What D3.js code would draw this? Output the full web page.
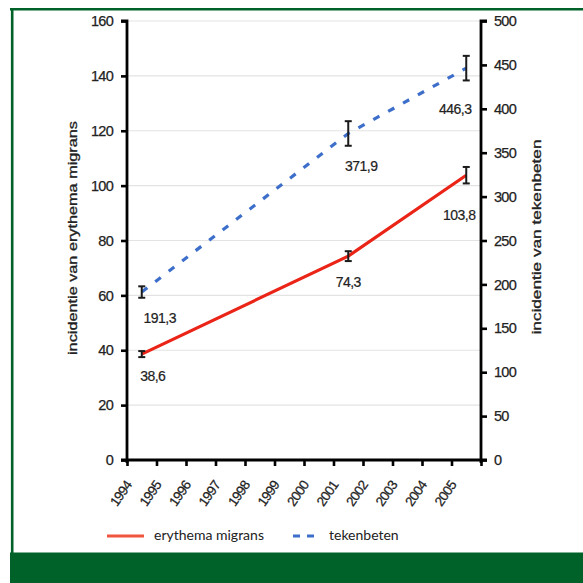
<!DOCTYPE html>
<html>
<head>
<meta charset="utf-8">
<script src="https://cdn.jsdelivr.net/npm/d3@7"></script>
<style>
  body { margin: 0; background: white; }
  svg { display: block; }
</style>
</head>
<body>
<div id="container"></div>
<script>
let w = 583;
let h = 583;

// DATA
let years = [1994, 1995, 1996, 1997, 1998, 1999, 2000, 2001, 2002, 2003, 2004, 2005];
let pointYears = [1994, 2001, 2005];
let emValues = [38.6, 74.3, 103.8];
let emErrors = [1.1, 1.8, 3.0];
let tbValues = [191.3, 371.9, 446.3];
let tbErrors = [6.5, 14, 14];
let emLabels = ["38,6", "74,3", "103,8"];
let tbLabels = ["191,3", "371,9", "446,3"];
let leftTicks = [0, 20, 40, 60, 80, 100, 120, 140, 160];
let rightTicks = [0, 50, 100, 150, 200, 250, 300, 350, 400, 450, 500];

// label offsets from the point (dx, dy)
let emLabelOffset = [[11, 27], [0, 31], [-7, 45]];
let tbLabelOffset = [[18, 31], [13, 38], [-11, 46]];

let green = "#006229";
let red = "#eb2418";
let blue = "#3d6fca";

let viz = d3.select("#container").append("svg")
    .attr("width", w)
    .attr("height", h);

// frame
viz.append("rect").attr("x", 0).attr("y", 0).attr("width", w).attr("height", h).attr("fill", "white");
viz.append("line").attr("x1", 10).attr("x2", w).attr("y1", 9.3).attr("y2", 9.3)
  .attr("stroke", green).attr("stroke-width", 2.6);
viz.append("line").attr("x1", 12.2).attr("x2", 12.2).attr("y1", 8).attr("y2", 553)
  .attr("stroke", green).attr("stroke-width", 2.6);
viz.append("rect").attr("x", 10).attr("y", 552.5).attr("width", w - 10).attr("height", h - 552.5)
  .attr("fill", green);

// SCALES
let xScale = d3.scaleLinear().domain([1994, 2006]).range([127, 481]);
let yLeft = d3.scaleLinear().domain([0, 160]).range([460, 21]);
let yRight = d3.scaleLinear().domain([0, 500]).range([460, 21]);
let xMid = function(y){ return xScale(y + 0.5); };

// gridlines
viz.selectAll(".grid").data(leftTicks.slice(1)).enter()
  .append("line")
    .attr("class", "grid")
    .attr("x1", xScale(1994)).attr("x2", xScale(2006))
    .attr("y1", function(d){ return yLeft(d); })
    .attr("y2", function(d){ return yLeft(d); })
    .attr("stroke", "#e3e3e3")
    .attr("stroke-width", 1.2);

let tickFont = "'Liberation Sans', Arial, sans-serif";

// left axis
let leftAxis = viz.append("g")
  .attr("transform", "translate(" + xScale(1994) + ",0)")
  .call(d3.axisLeft(yLeft).tickValues(leftTicks).tickSize(6).tickPadding(8));
// right axis
let rightAxis = viz.append("g")
  .attr("transform", "translate(" + xScale(2006) + ",0)")
  .call(d3.axisRight(yRight).tickValues(rightTicks).tickSize(6).tickPadding(7));
// x axis
let xAxis = viz.append("g")
  .attr("transform", "translate(0," + yLeft(0) + ")")
  .call(d3.axisBottom(xScale).tickValues(d3.range(1994, 2007)).tickSize(6)
    .tickFormat(function(d){ return years.indexOf(d) >= 0 ? d : ""; }));

[leftAxis, rightAxis, xAxis].forEach(function(a){
  a.select(".domain").attr("stroke", "black").attr("stroke-width", 2.8);
  a.selectAll(".tick line").attr("stroke", "black").attr("stroke-width", 2.6);
  a.selectAll("text").attr("fill", "#222").style("font-family", tickFont).style("font-size", "14.5px")
    .style("letter-spacing", "-0.7px").attr("stroke", "#222").attr("stroke-width", 0.25);
});
leftAxis.select(".domain").attr("d", "M-6,21H0V463");
rightAxis.select(".domain").attr("d", "M6,21H0V463");
xAxis.select(".domain").attr("d", "M" + (xScale(1994) - 6) + ",0H" + (xScale(2006) + 6));

xAxis.selectAll("text")
  .style("font-size", "13.5px")
  .style("letter-spacing", "-0.7px")
  .attr("text-anchor", "end")
  .attr("transform", "translate(5,25) rotate(-55)")
  .attr("dy", 0)
  .attr("y", 0);

// axis titles
let titleFont = "'Liberation Sans', Arial, sans-serif";
viz.append("text")
  .attr("transform", "translate(77,238) rotate(-90)")
  .attr("text-anchor", "middle")
  .attr("textLength", 234)
  .attr("lengthAdjust", "spacingAndGlyphs")
  .style("font-family", titleFont)
  .style("font-size", "12px")
  .attr("fill", "#222")
  .attr("stroke", "#222").attr("stroke-width", 0.3)
  .text("incidentie van erythema migrans");
viz.append("text")
  .attr("transform", "translate(541,237) rotate(-90)")
  .attr("text-anchor", "middle")
  .attr("textLength", 195)
  .attr("lengthAdjust", "spacingAndGlyphs")
  .style("font-family", titleFont)
  .style("font-size", "12px")
  .attr("fill", "#222")
  .attr("stroke", "#222").attr("stroke-width", 0.3)
  .text("incidentie van tekenbeten");

// LINES
let emLine = d3.line()
  .x(function(d, i){ return xMid(pointYears[i]); })
  .y(function(d){ return yLeft(d); });
let tbLine = d3.line()
  .x(function(d, i){ return xMid(pointYears[i]); })
  .y(function(d){ return yRight(d); });

viz.append("path").datum(tbValues)
  .attr("d", tbLine)
  .attr("fill", "none")
  .attr("stroke", blue)
  .attr("stroke-width", 3.2)
  .attr("stroke-dasharray", "7,10");

viz.append("path").datum(emValues)
  .attr("d", emLine)
  .attr("fill", "none")
  .attr("stroke", red)
  .attr("stroke-width", 3.2);

// ERROR BARS
function errorBars(values, errors, scale){
  let g = viz.append("g");
  values.forEach(function(v, i){
    let x = xMid(pointYears[i]);
    let top = scale(v + errors[i]);
    let bot = scale(v - errors[i]);
    g.append("line").attr("x1", x).attr("x2", x).attr("y1", top).attr("y2", bot);
    g.append("line").attr("x1", x - 3.5).attr("x2", x + 3.5).attr("y1", top).attr("y2", top);
    g.append("line").attr("x1", x - 3.5).attr("x2", x + 3.5).attr("y1", bot).attr("y2", bot);
  });
  g.selectAll("line").attr("stroke", "#1a1a1a").attr("stroke-width", 2);
}
errorBars(emValues, emErrors, yLeft);
errorBars(tbValues, tbErrors, yRight);

// VALUE LABELS
let labelFont = "'Liberation Sans', Arial, sans-serif";
function valueLabels(cls, labels, values, offsets, scale){
  viz.selectAll("." + cls).data(labels).enter()
    .append("text")
      .attr("class", cls)
      .attr("x", function(d, i){ return xMid(pointYears[i]) + offsets[i][0]; })
      .attr("y", function(d, i){ return scale(values[i]) + offsets[i][1]; })
      .attr("text-anchor", "middle")
      .style("font-family", labelFont)
      .style("font-size", "14px")
      .style("letter-spacing", "-0.5px")
      .attr("fill", "#222")
      .attr("stroke", "#222").attr("stroke-width", 0.2)
      .text(function(d){ return d; });
}
valueLabels("emLabel", emLabels, emValues, emLabelOffset, yLeft);
valueLabels("tbLabel", tbLabels, tbValues, tbLabelOffset, yRight);

// LEGEND
let legendFont = "Lato, 'Open Sans', sans-serif";
viz.append("line").attr("x1", 107).attr("x2", 144).attr("y1", 536).attr("y2", 536)
  .attr("stroke", "#f0553e").attr("stroke-width", 3);
viz.append("text").attr("x", 154).attr("y", 540)
  .style("font-family", legendFont).style("font-size", "14px").attr("fill", "#222")
  .text("erythema migrans");
viz.append("line").attr("x1", 293).attr("x2", 315).attr("y1", 536).attr("y2", 536)
  .attr("stroke", blue).attr("stroke-width", 3).attr("stroke-dasharray", "7,7");
viz.append("text").attr("x", 329).attr("y", 540)
  .style("font-family", legendFont).style("font-size", "14px").attr("fill", "#222")
  .text("tekenbeten");
</script>
</body>
</html>
